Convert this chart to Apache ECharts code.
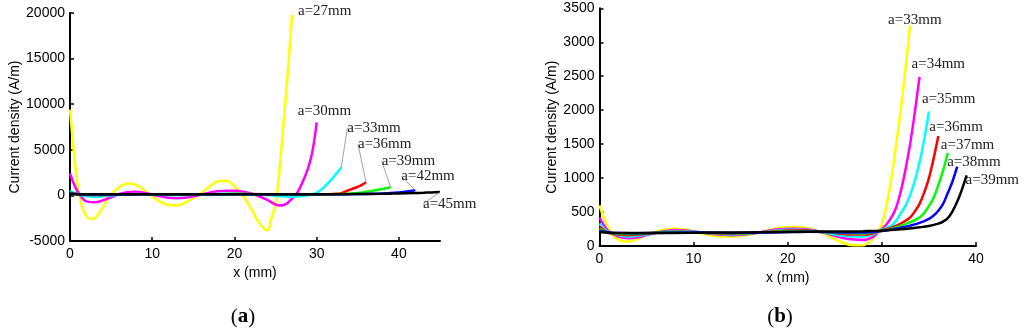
<!DOCTYPE html>
<html><head><meta charset="utf-8">
<script src="https://cdn.jsdelivr.net/npm/echarts@6.0.0/dist/echarts.min.js"></script>
<style>html,body{margin:0;padding:0;background:#fff;}#c{width:1024px;height:333px;}</style>
</head><body><div id="c"></div>
<script>
// ---------- Panel (a) data ----------
const xA27 = [0,0.5,1,1.5,2,2.5,3,3.5,4,5,6,7,8,9,10,11,12,13,14,15,16,17,18,19,20,21,22,23,24,24.5,25,25.5,26,26.5,27];
const yA27 = [9400,4500,700,-1300,-2300,-2600,-2500,-2000,-1300,100,900,1300,1150,600,-100,-700,-1050,-1100,-800,-300,300,1000,1550,1600,1000,0,-1400,-3000,-3850,-2500,-1000,3000,8300,13600,19800];
const xA30 = [0,0.5,1,1.5,2,3,4,5,6,7,8,9,10,11,12,13,14,15,16,17,18,19,20,21,22,23,24,25,25.5,26,26.5,27,27.5,28,28.5,29,29.5,30];
const yA30 = [2400,1200,300,-300,-650,-750,-550,-200,150,350,400,300,100,-100,-250,-300,-250,-100,100,300,450,520,500,400,200,-100,-500,-1000,-1100,-1050,-800,-350,100,900,1900,3100,4900,8000];
const xA33 = [0,1,2,3,4,5,6,8,10,12,14,16,18,20,22,24,26,27,28,29,29.5,30,30.5,31,31.5,32,32.5,33];
const yA33 = [500,100,-100,-150,-100,0,80,150,100,50,50,100,150,200,150,50,-100,-150,-100,50,120,300,600,1000,1450,1950,2500,3100];
const xA36 = [0,1,2,4,6,8,10,12,14,16,18,20,22,24,26,28,30,31,32,33,34,35,35.5,36];
const yA36 = [300,120,50,50,100,130,120,100,100,110,130,150,150,130,100,80,100,130,160,250,600,950,1150,1450];
const xA39 = [0,1,2,4,8,12,16,20,24,28,30,32,33,34,35,36,37,38,39];
const yA39 = [250,120,80,80,120,110,120,140,120,100,110,130,150,190,260,390,540,700,900];
const xA42 = [0,1,2,4,8,12,16,20,24,28,32,35,36,37,38,39,40,41,42];
const yA42 = [200,130,100,100,120,120,125,135,125,115,125,150,165,185,210,250,320,420,560];
const xA45 = [0,2,6,10,15,20,25,30,35,38,40,42,43,44,45];
const yA45 = [150,120,120,125,130,135,130,130,150,170,210,260,290,330,370];
const namesA = ['a=27mm','a=30mm','a=33mm','a=36mm','a=39mm','a=42mm','a=45mm'];
const xTicksA = [0,10,20,30,40];

// ---------- Panel (b) data ----------
const xB33 = [0,0.5,1,1.5,2,2.5,3,3.5,4,5,6,7,8,9,10,11,12,13,14,15,16,17,18,19,20,21,22,23,24,25,26,27,28,28.5,29,29.5,30,30.5,31,31.5,32,32.5,33];
const yB33 = [600,400,250,150,95,70,65,75,100,160,210,245,255,245,215,180,155,140,140,150,170,200,235,265,280,280,265,230,170,100,40,10,10,40,100,200,320,600,1000,1480,2000,2600,3250];
const xB34 = [0,0.5,1,2,3,4,5,6,7,8,9,10,11,12,13,14,15,16,17,18,19,20,21,22,23,24,25,26,27,28,29,29.5,30,30.5,31,31.5,32,32.5,33,33.5,34];
const yB34 = [420,300,210,140,115,125,160,195,220,235,230,215,195,175,165,160,165,180,200,225,245,255,255,245,225,190,150,115,95,90,130,190,250,320,420,560,800,1120,1500,1970,2490];
const xB35 = [0,0.5,1,2,3,4,5,6,7,8,9,10,11,12,13,14,15,16,17,18,19,20,21,22,23,24,25,26,27,28,29,30,31,31.5,32,32.5,33,33.5,34,34.5,35];
const yB35 = [330,250,200,160,140,150,170,195,210,220,218,210,195,185,175,172,175,185,200,215,230,240,240,235,220,195,170,150,140,140,170,240,300,370,480,590,750,960,1230,1570,1980];
const xB36 = [0,1,2,3,4,5,6,7,8,9,10,11,12,13,14,15,16,17,18,19,20,21,22,23,24,25,26,27,28,29,30,31,32,33,33.5,34,34.5,35,35.5,36];
const yB36 = [285,190,170,160,165,180,195,205,210,210,205,195,188,183,182,185,190,200,210,220,228,230,228,218,205,190,175,168,168,185,230,270,330,420,510,620,790,1000,1290,1620];
const xB37 = [0,1,2,3,4,6,8,10,12,14,16,18,20,22,24,26,28,30,31,32,33,34,34.5,35,35.5,36,36.5,37];
const yB37 = [250,195,180,175,178,195,205,200,192,188,192,205,215,215,205,190,185,225,255,295,350,420,490,590,710,900,1110,1370];
const xB38 = [0,1,2,4,6,8,10,12,14,16,18,20,22,24,26,28,30,32,33,34,35,35.5,36,36.5,37,37.5,38];
const yB38 = [225,200,190,188,192,198,200,196,193,195,200,207,210,207,200,198,222,270,300,340,400,450,520,620,780,950,1170];
const xB39 = [0,1,3,5,10,15,20,25,28,30,32,34,35,36,36.5,37,37.5,38,38.5,39];
const yB39 = [205,195,192,192,195,200,205,212,218,225,245,275,295,330,360,410,510,650,830,1040];
const namesB = ['a=33mm','a=34mm','a=35mm','a=36mm','a=37mm','a=38mm','a=39mm'];
const xTicksB = [0,10,20,30,40];

// ---------- styling ----------
const colors = ['#ffff00','#ff00ff','#00ffff','#ff0000','#00ff00','#0000ff','#000000'];
const SANS = 'Liberation Sans, Arial, sans-serif';
const SERIF = 'Liberation Serif, Times New Roman, serif';
const offA = [[6,-4],[-19,-11],[6,-39],[-8,-38],[-9,-26],[-14,-14],[-17,12]];
const leadA = [false,false,true,true,true,true,true];
const offB = [[-22,-5],[-8,-13],[-7,-12],[-9,-9],[-7,-8],[-10,-4],[-1,5]];

function mkSeries(xs, ys, i, gi, name, off, lead) {
  const data = xs.map((x, k) => {
    const item = { value: [x, ys[k]] };
    if (k === xs.length - 1) item.label = { show: true };
    return item;
  });
  return {
    type: 'line', xAxisIndex: gi, yAxisIndex: gi, data: data, smooth: 0.4,
    showSymbol: true, showAllSymbol: true, symbol: 'circle', symbolSize: 0,
    lineStyle: { color: colors[i], width: 2.5 }, itemStyle: { color: colors[i] },
    label: { show: false, position: 'right', distance: 0, formatter: name,
      fontFamily: SERIF, fontSize: 15, color: '#222' },
    labelLayout: { dx: off[0], dy: off[1] },
    labelLine: { show: lead, length2: 0, lineStyle: { color: '#8a8a8a', width: 0.8 } },
    emphasis: { disabled: true }, silent: true, z: 2 + i
  };
}

function xAxisCfg(gi, max, ticks) {
  return { type: 'value', gridIndex: gi, min: 0, max: max, interval: 10,
    name: 'x (mm)', nameLocation: 'middle', nameGap: 25,
    nameTextStyle: { fontFamily: SANS, fontSize: 14, color: '#000' },
    axisLine: { onZero: false, lineStyle: { color: '#000', width: 2 } },
    axisTick: { inside: true, length: 4, lineStyle: { color: '#000', width: 1.5 }, customValues: ticks },
    axisLabel: { fontFamily: SANS, fontSize: 14, color: '#000', margin: 6, customValues: ticks },
    splitLine: { show: false } };
}
function yAxisCfg(gi, min, max, itv, gap) {
  return { type: 'value', gridIndex: gi, min: min, max: max, interval: itv,
    name: 'Current density (A/m)', nameLocation: 'middle', nameGap: gap,
    nameTextStyle: { fontFamily: SANS, fontSize: 14, color: '#000' },
    axisLine: { show: true, onZero: false, lineStyle: { color: '#000', width: 2 } },
    axisTick: { show: true, inside: true, length: 4, lineStyle: { color: '#000', width: 1.5 } },
    axisLabel: { fontFamily: SANS, fontSize: 14, color: '#000', margin: 5, formatter: v => String(v) },
    splitLine: { show: false } };
}

const seriesA = [[xA27,yA27],[xA30,yA30],[xA33,yA33],[xA36,yA36],[xA39,yA39],[xA42,yA42],[xA45,yA45]]
  .map((p, i) => mkSeries(p[0], p[1], i, 0, namesA[i], offA[i], leadA[i]));
const seriesB = [[xB33,yB33],[xB34,yB34],[xB35,yB35],[xB36,yB36],[xB37,yB37],[xB38,yB38],[xB39,yB39]]
  .map((p, i) => mkSeries(p[0], p[1], i, 1, namesB[i], offB[i], false));

const chart = echarts.init(document.getElementById('c'), null, { renderer: 'canvas' });
chart.setOption({
  animation: false,
  backgroundColor: '#fff',
  grid: [
    { left: 70, top: 13, width: 370, height: 228 },
    { left: 599.5, top: 8.3, width: 376.5, height: 237.7 }
  ],
  xAxis: [xAxisCfg(0, 45, xTicksA), xAxisCfg(1, 40, xTicksB)],
  yAxis: [yAxisCfg(0, -5000, 20000, 5000, 44), yAxisCfg(1, 0, 3500, 500, 39)],
  graphic: [
    { type: 'text', x: 243, y: 317, style: { text: '{n|(}{b|a}{n|)}', align: 'center', verticalAlign: 'middle',
      rich: { n: { fontFamily: SERIF, fontSize: 21, fill: '#000' }, b: { fontFamily: SERIF, fontSize: 21, fontWeight: 'bold', fill: '#000' } } } },
    { type: 'text', x: 780, y: 317, style: { text: '{n|(}{b|b}{n|)}', align: 'center', verticalAlign: 'middle',
      rich: { n: { fontFamily: SERIF, fontSize: 21, fill: '#000' }, b: { fontFamily: SERIF, fontSize: 21, fontWeight: 'bold', fill: '#000' } } } }
  ],
  series: seriesA.concat(seriesB)
});
</script></body></html>
